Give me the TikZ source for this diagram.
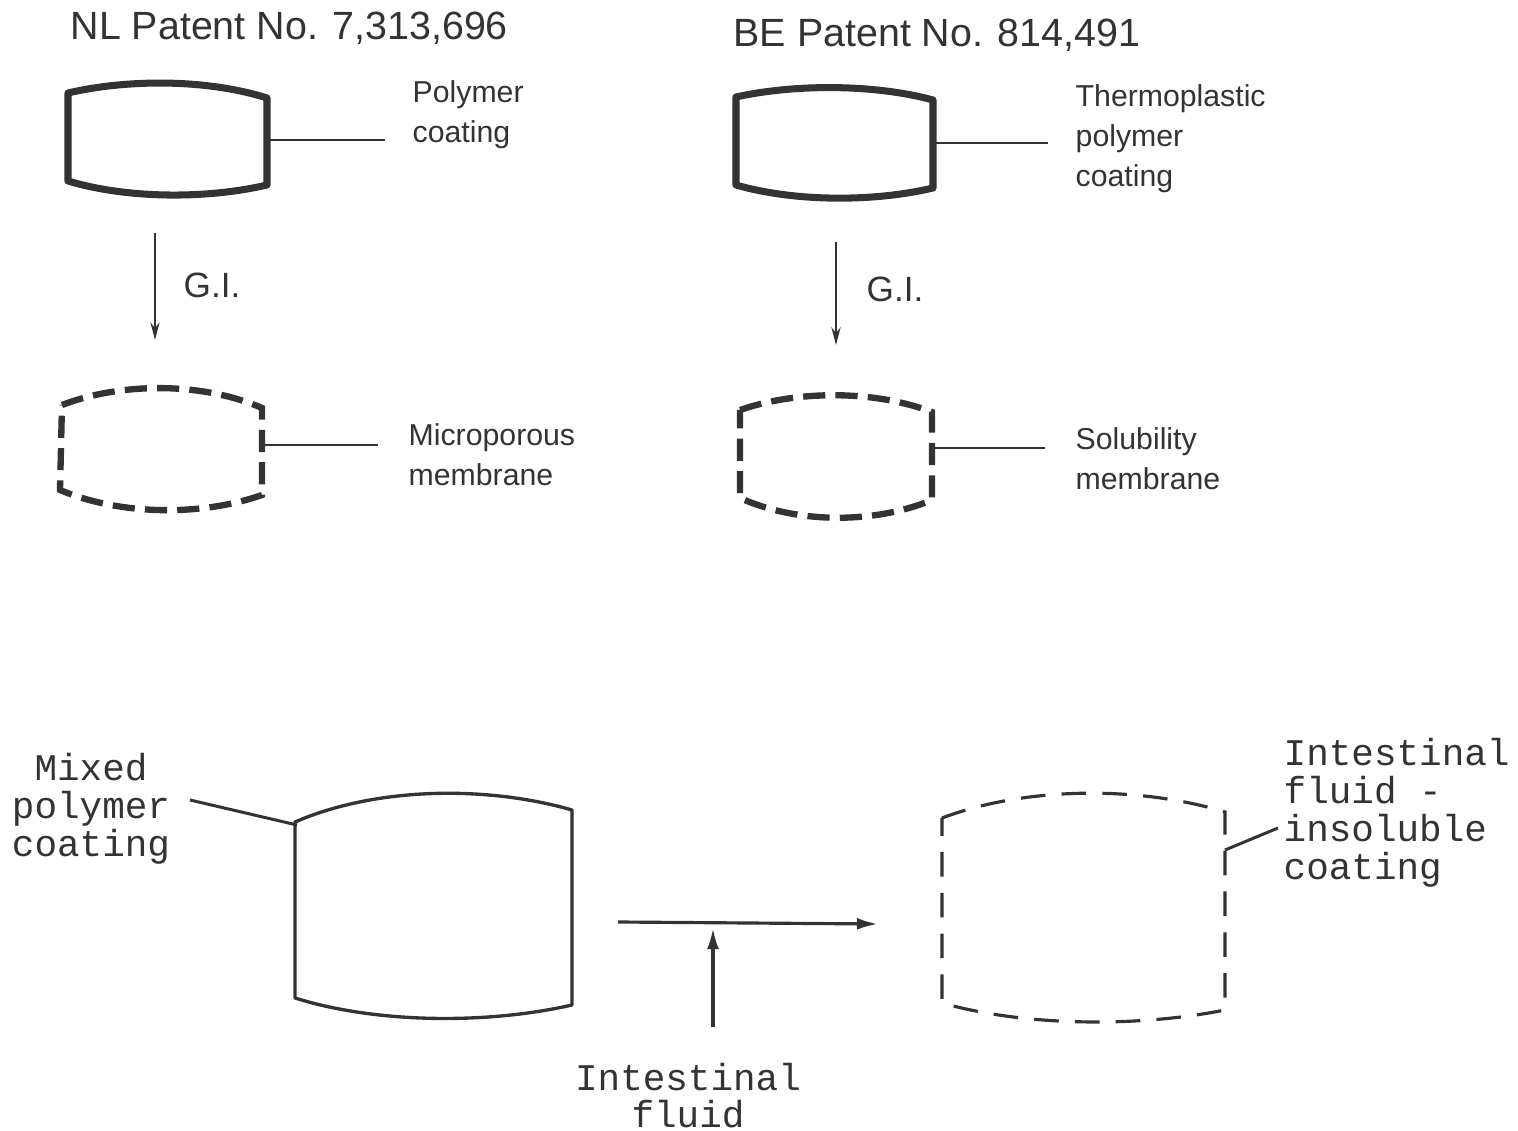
\documentclass[tikz,border=0pt]{standalone}
\usepackage{fontspec}
\setmainfont{Liberation Sans}
\setmonofont{Liberation Mono}
\usetikzlibrary{arrows.meta}
\definecolor{ink}{gray}{0.2}
\begin{document}
\begin{tikzpicture}[x=0.01cm,y=-0.01cm,
  thickbox/.style={draw=ink,line width=2pt,line join=round},
  thickdash/.style={draw=ink,line width=1.8pt,dash pattern=on 6.3pt off 2.9pt},
  thinbox/.style={draw=ink,line width=0.95pt,line join=round},
  thindash/.style={draw=ink,line width=0.9pt,dash pattern=on 7pt off 4.6pt},
  leader/.style={draw=ink,line width=0.6pt},
  gi/.style={draw=ink,line width=0.6pt,-{Stealth[length=5pt,width=2.6pt]}},
  flow/.style={draw=ink,line width=0.9pt,-{Latex[length=6pt,width=3.4pt]}},
  title/.style={text=ink,inner sep=0pt,font=\fontsize{11.2}{13}\selectfont},
  lab/.style={text=ink,inner sep=0pt,align=left,font=\fontsize{8.6}{11.4}\selectfont},
  gitext/.style={text=ink,inner sep=0pt,font=\fontsize{10}{12}\selectfont},
  mono/.style={text=ink,inner sep=0pt,font=\ttfamily\fontsize{10.7}{10.8}\selectfont}]
\useasboundingbox (0,0) rectangle (1518,1131);
\fill[white] (0,0) rectangle (1518,1131);

% titles
\node[title,anchor=base west] (tNL) at (70,40) {NL Patent No. 7,313,696};
\node[title,anchor=base west] (tBE) at (733,47) {BE Patent No. 814,491};

% box A: NL solid
\draw[thickbox] (68,93) .. controls (128,79) and (207,79) .. (267,98) -- (267,185)
  .. controls (207,199) and (128,199) .. (68,181) -- cycle;
\coordinate (aR) at (267,140);
\coordinate (aE) at (385,140);
\draw[leader] (aR) -- (aE);
\node[lab,anchor=north west] (lA) at (412,80) {Polymer\\coating};

% box B: BE solid
\draw[thickbox] (736,97) .. controls (795,84) and (874,84) .. (933,100) -- (933,188)
  .. controls (874,202) and (795,202) .. (736,185) -- cycle;
\coordinate (bR) at (933,143);
\coordinate (bE) at (1048,143);
\draw[leader] (bR) -- (bE);
\node[lab,anchor=north west] (lB) at (1075,84) {Thermoplastic\\polymer\\coating};

% G.I. arrows
\coordinate (g1s) at (155,233);
\coordinate (g1e) at (155,340);
\draw[gi] (g1s) -- (g1e);
\node[gitext,anchor=north west] (gA) at (183,272) {G.I.};
\coordinate (g2s) at (836,242);
\coordinate (g2e) at (836,345);
\draw[gi] (g2s) -- (g2e);
\node[gitext,anchor=north west] (gB) at (866,276) {G.I.};

% box C: NL dashed
\draw[thickdash] (62,405) .. controls (122,382) and (202,382) .. (262,408) -- (262,495)
  .. controls (202,516) and (122,516) .. (60,490) -- cycle;
\coordinate (cR) at (262,445);
\coordinate (cE) at (378,445);
\draw[leader] (cR) -- (cE);
\node[lab,anchor=north west] (lC) at (408,423) {Microporous\\membrane};

% box D: BE dashed
\draw[thickdash] (740,410) .. controls (798,390) and (874,390) .. (932,412) -- (932,500)
  .. controls (874,524) and (798,524) .. (740,498) -- cycle;
\coordinate (dR) at (932,448);
\coordinate (dE) at (1045,448);
\draw[leader] (dR) -- (dE);
\node[lab,anchor=north west] (lD) at (1075,427) {Solubility\\membrane};

% box E: bottom solid
\draw[thinbox] (295,822) .. controls (378,786) and (489,786) .. (572,810) -- (572,1005)
  .. controls (489,1024) and (378,1024) .. (295,998) -- cycle;
\coordinate (eL) at (297,825);
\coordinate (eE) at (190,800);
\draw[leader,line width=0.85pt] (eE) -- (eL);
\node[mono,anchor=north,align=center] (lE) at (91,753) {Mixed\\polymer\\coating};

% box F: bottom dashed
\draw[thindash] (942,818) .. controls (1027,786) and (1140,786) .. (1225,812) -- (1225,1010)
  .. controls (1140,1027) and (1027,1027) .. (942,1003) -- cycle;
\coordinate (fR) at (1225,850);
\coordinate (fE) at (1278,828);
\draw[leader,line width=0.85pt] (fR) -- (fE);
\node[mono,anchor=north west,align=left] (lF) at (1283,738) {Intestinal\\fluid -\\insoluble\\coating};

% flow arrows
\coordinate (hS) at (618,922);
\coordinate (hE) at (878,924);
\draw[flow] (hS) -- (hE);
\coordinate (vS) at (713,1027);
\coordinate (vE) at (713,928);
\draw[flow] (vS) -- (vE);
\node[mono,anchor=north,align=center,font=\ttfamily\fontsize{10.7}{10.3}\selectfont] (lG) at (688,1063) {Intestinal\\fluid};
\end{tikzpicture}
\end{document}
